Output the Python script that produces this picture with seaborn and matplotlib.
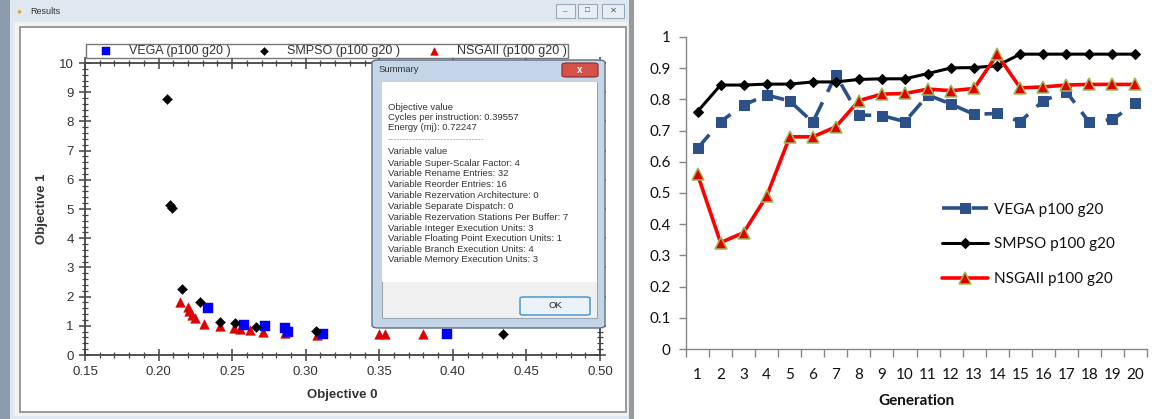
import matplotlib
matplotlib.use("Agg")
import matplotlib.pyplot as plt
import seaborn as sns
from matplotlib.patches import Rectangle, FancyBboxPatch
from matplotlib.ticker import MultipleLocator

# ---- left panel: Pareto fronts (Objective 0 vs Objective 1) ----
vega_obj0 = [0.2336, 0.258, 0.272, 0.286, 0.288, 0.312, 0.396]
vega_obj1 = [1.62, 1.02, 0.99, 0.93, 0.78, 0.72, 0.72]

smpso_obj0 = [0.2055, 0.2080, 0.2090, 0.216, 0.228, 0.242, 0.252, 0.266, 0.307, 0.434]
smpso_obj1 = [8.75, 5.12, 5.03, 2.26, 1.82, 1.14, 1.08, 0.97, 0.83, 0.72]

nsga_obj0 = [0.2146, 0.220, 0.221, 0.223, 0.225, 0.231, 0.242, 0.251, 0.255,
             0.262, 0.271, 0.286, 0.308, 0.350, 0.354, 0.380]
nsga_obj1 = [1.82, 1.65, 1.50, 1.38, 1.28, 1.07, 1.00, 0.93, 0.90,
             0.84, 0.79, 0.75, 0.70, 0.72, 0.72, 0.72]

summary_lines = [
    "Objective value",
    "Cycles per instruction: 0.39557",
    "Energy (mj): 0.72247",
    "-------------------------------",
    "Variable value",
    "Variable Super-Scalar Factor: 4",
    "Variable Rename Entries: 32",
    "Variable Reorder Entries: 16",
    "Variable Rezervation Architecture: 0",
    "Variable Separate Dispatch: 0",
    "Variable Rezervation Stations Per Buffer: 7",
    "Variable Integer Execution Units: 3",
    "Variable Floating Point Execution Units: 1",
    "Variable Branch Execution Units: 4",
    "Variable Memory Execution Units: 3",
]

# ---- right panel: best value per generation ----
generations = list(range(1, 21))
vega_gen = [0.643, 0.729, 0.782, 0.814, 0.795, 0.727, 0.878, 0.750, 0.748, 0.729,
            0.814, 0.785, 0.752, 0.755, 0.729, 0.796, 0.825, 0.726, 0.736, 0.787]
smpso_gen = [0.761, 0.846, 0.846, 0.849, 0.849, 0.856, 0.856, 0.864, 0.866, 0.866,
             0.883, 0.901, 0.902, 0.908, 0.945, 0.945, 0.945, 0.945, 0.945, 0.945]
nsga_gen = [0.560, 0.341, 0.373, 0.490, 0.680, 0.680, 0.712, 0.796, 0.817, 0.819,
            0.833, 0.828, 0.835, 0.944, 0.837, 0.840, 0.846, 0.848, 0.848, 0.848]

W, H = 1158, 419


def fx(px):
    return px / W


def fy(py):
    return 1 - py / H


def rect_px(fig, x0, y0, x1, y1, **kw):
    r = Rectangle((fx(x0), fy(y1)), fx(x1) - fx(x0), fy(y0) - fy(y1),
                  transform=fig.transFigure, **kw)
    fig.patches.append(r)
    return r


sns.set_theme(style="white")
plt.rcParams['font.family'] = ['Liberation Sans', 'DejaVu Sans']

fig = plt.figure(figsize=(W / 100, H / 100), dpi=100)
fig.patch.set_facecolor("white")

# window chrome of the left screenshot (behind the axes)
rect_px(fig, 0, 0, 10, 419, facecolor="#8d9cad", edgecolor="none", zorder=-5)
rect_px(fig, 10, 0, 632, 419, facecolor="#dfe7f0", edgecolor="none", zorder=-5)
rect_px(fig, 14, 22, 628, 416, facecolor="#f2f2f2", edgecolor="none", zorder=-4)
rect_px(fig, 20, 27, 626, 412, facecolor="white", edgecolor="#8a8a8a", lw=1.2, zorder=-3)
rect_px(fig, 629, 0, 634, 419, facecolor="#9a9a9a", edgecolor="none", zorder=-3)
fig.text(fx(16), fy(12), "\u25cf", color="#e0a030", fontsize=6, va="center")
fig.text(fx(30), fy(12), "Results", color="#333333", fontsize=6.5, va="center")
for bx0, bx1 in [(556, 575), (578, 597), (602, 624)]:
    rect_px(fig, bx0, 4, bx1, 18, facecolor="#e8eef5", edgecolor="#9aa8b8", lw=0.8, zorder=-2)
fig.text(fx(565.5), fy(12), "\u2013", fontsize=6, ha="center", va="center", color="#555555")
fig.text(fx(587.5), fy(11), "\u25a1", fontsize=6, ha="center", va="center", color="#555555")
fig.text(fx(613), fy(11), "\u2715", fontsize=6, ha="center", va="center", color="#555555")

# left scatter axes
ax1 = fig.add_axes([fx(85), fy(355), fx(600) - fx(85), fy(63) - fy(355)])
ax1.set_facecolor("white")
sns.scatterplot(x=vega_obj0, y=vega_obj1, marker="s", color="#0000ff", s=42,
                edgecolor="#0000cc", linewidth=0.3, ax=ax1, label="VEGA (p100 g20 )", zorder=3)
sns.scatterplot(x=smpso_obj0, y=smpso_obj1, marker="D", color="black", s=26,
                edgecolor="black", linewidth=0.3, ax=ax1, label="SMPSO (p100 g20 )", zorder=4)
sns.scatterplot(x=nsga_obj0, y=nsga_obj1, marker="^", color="#e00000", s=48,
                edgecolor="#cc0000", linewidth=0.3, ax=ax1, label="NSGAII (p100 g20 )", zorder=2)
ax1.set_xlim(0.15, 0.50)
ax1.set_ylim(0, 10)
ax1.xaxis.set_major_locator(MultipleLocator(0.05))
ax1.xaxis.set_minor_locator(MultipleLocator(0.01))
ax1.yaxis.set_major_locator(MultipleLocator(1))
ax1.yaxis.set_minor_locator(MultipleLocator(0.2))
ax1.xaxis.set_major_formatter(matplotlib.ticker.FormatStrFormatter("%.2f"))
for s in ax1.spines.values():
    s.set_color("#444444")
    s.set_linewidth(1.3)
ax1.tick_params(which="major", direction="inout", length=9, width=1.1, color="#444444",
                labelsize=9.5, labelcolor="#333333", bottom=True, left=True, top=True, right=True)
ax1.tick_params(which="minor", direction="inout", length=5, width=0.9, color="#444444",
                bottom=True, left=True, top=True, right=True)
ax1.set_xlabel("Objective 0", fontsize=9.5, fontweight="bold", color="#333333", labelpad=8)
ax1.set_ylabel("Objective 1", fontsize=9.5, fontweight="bold", color="#333333", labelpad=8)
leg1 = ax1.legend(loc="lower left", ncol=3,
                  bbox_to_anchor=(fx(86), fy(58)),
                  bbox_transform=fig.transFigure, fontsize=9, frameon=True, fancybox=False,
                  borderpad=0.08, handletextpad=0.35, borderaxespad=0, handlelength=3.0,
                  columnspacing=1.2, markerscale=0.8)
leg1.get_frame().set_edgecolor("#555555")
leg1.get_frame().set_linewidth(1.0)
for t in leg1.get_texts():
    t.set_color("#333333")

# Summary dialog on top of the scatter
dlg = FancyBboxPatch((fx(372), fy(328)), fx(605) - fx(372), fy(60) - fy(328),
                     boxstyle="round,pad=0,rounding_size=0.006", transform=fig.transFigure,
                     facecolor="#c4d5e8", edgecolor="#5d6f84", lw=1.0, zorder=10)
fig.patches.append(dlg)
rect_px(fig, 382, 82, 597, 318, facecolor="#f0f0f0", edgecolor="#9aa7b5", lw=0.8, zorder=11)
rect_px(fig, 382, 82, 597, 282, facecolor="white", edgecolor="none", zorder=11)
close = FancyBboxPatch((fx(562), fy(77)), fx(598) - fx(562), fy(63) - fy(77),
                       boxstyle="round,pad=0,rounding_size=0.004", transform=fig.transFigure,
                       facecolor="#d4524a", edgecolor="#8a2a25", lw=0.8, zorder=12)
fig.patches.append(close)
fig.text(fx(580), fy(70), "x", color="white", fontsize=7, fontweight="bold",
         ha="center", va="center", zorder=13)
fig.text(fx(379), fy(70), "Summary", color="#333333", fontsize=6.8, va="center", zorder=13)
okb = FancyBboxPatch((fx(520), fy(315)), fx(590) - fx(520), fy(297) - fy(315),
                     boxstyle="round,pad=0,rounding_size=0.003", transform=fig.transFigure,
                     facecolor="#eaf2fb", edgecolor="#3c8fd0", lw=1.0, zorder=12)
fig.patches.append(okb)
fig.text(fx(555), fy(306), "OK", color="#222222", fontsize=6.8, ha="center", va="center", zorder=13)
line_y = [107, 117.5, 128, 140, 152, 163, 174, 184.5, 195, 206, 217, 228, 238.5, 249, 260]
for txt, yy in zip(summary_lines, line_y):
    col = "#aaaaaa" if txt.startswith("---") else "#333333"
    fig.text(fx(388), fy(yy), txt, color=col, fontsize=6.8, va="center", zorder=13)

# right line chart
plt.rcParams['font.family'] = ['Lato', 'DejaVu Sans']
ax2 = fig.add_axes([fx(686), fy(349), fx(1147) - fx(686), fy(37) - fy(349)])
ax2.set_facecolor("white")
sns.lineplot(x=generations, y=vega_gen, ax=ax2, color="#2b5188", lw=2.6, marker="s",
             markersize=7.5, markeredgecolor="#2b5188", label="VEGA p100 g20")
ax2.lines[-1].set_dashes([5, 3.2])
sns.lineplot(x=generations, y=smpso_gen, ax=ax2, color="black", lw=2.2, marker="D",
             markersize=5, markeredgecolor="black", label="SMPSO p100 g20")
sns.lineplot(x=generations, y=nsga_gen, ax=ax2, color="#ff0000", lw=2.6, marker="^",
             markersize=8, markerfacecolor="#e00000", markeredgecolor="#9bbb59",
             markeredgewidth=1.1, label="NSGAII p100 g20")
ax2.set_xlim(0.5, 20.5)
ax2.set_ylim(0, 1)
ax2.set_xticks(generations)
ax2.set_xticks([g + 0.5 for g in range(0, 21)], minor=True)
ax2.yaxis.set_major_locator(MultipleLocator(0.1))
ax2.yaxis.set_major_formatter(matplotlib.ticker.FuncFormatter(
    lambda v, p: "0" if abs(v) < 1e-9 else ("1" if abs(v - 1) < 1e-9 else f"{v:.1f}")))
for side in ["top", "right"]:
    ax2.spines[side].set_visible(False)
for side in ["left", "bottom"]:
    ax2.spines[side].set_color("#868686")
    ax2.spines[side].set_linewidth(1.0)
ax2.tick_params(axis="x", which="major", length=0, pad=14, labelsize=11, labelcolor="#111111")
ax2.tick_params(axis="x", which="minor", direction="out", length=6, width=1.0,
                color="#868686", bottom=True)
ax2.tick_params(axis="y", which="major", direction="out", length=5, width=1.0,
                color="#868686", left=True, labelsize=11, labelcolor="#111111", pad=6)
for lbl in ax2.get_xticklabels() + ax2.get_yticklabels():
    lbl.set_family(['Lato', 'DejaVu Sans'])
ax2.set_xlabel("Generation", fontsize=11, fontweight="bold", color="#111111",
               family=['Lato', 'DejaVu Sans'], labelpad=8)
ax2.set_ylabel("")
leg2 = ax2.legend(loc="upper left", bbox_to_anchor=(fx(928), fy(189)),
                  bbox_transform=fig.transFigure, frameon=False, fontsize=11,
                  handlelength=3.0, handletextpad=0.4, labelspacing=1.35,
                  prop={'family': ['Lato', 'DejaVu Sans'], 'size': 11})
for t in leg2.get_texts():
    t.set_color("#111111")

fig.savefig("out.png", dpi=100)
